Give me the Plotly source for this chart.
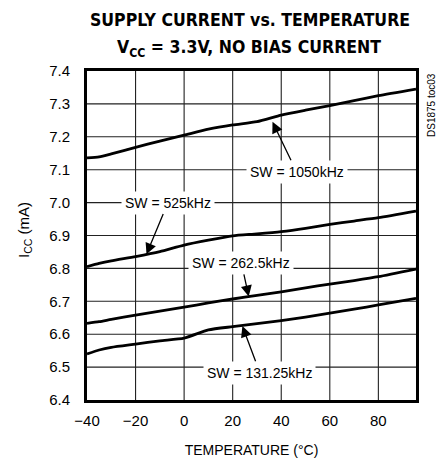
import plotly.graph_objects as go

temp = [-40, -35, -30, -20, -10, 0, 10, 20, 30, 40, 50, 60, 70, 80, 95.5]
sw1050 = [7.136, 7.139, 7.148, 7.168, 7.187, 7.205, 7.223, 7.236, 7.246, 7.266, 7.281, 7.295, 7.310, 7.325, 7.345]
sw525 = [6.805, 6.815, 6.823, 6.836, 6.851, 6.871, 6.886, 6.899, 6.905, 6.912, 6.922, 6.934, 6.944, 6.954, 6.974]
sw262 = [6.633, 6.638, 6.645, 6.658, 6.670, 6.682, 6.695, 6.707, 6.718, 6.729, 6.741, 6.752, 6.763, 6.775, 6.798]
sw131 = [6.540, 6.552, 6.560, 6.570, 6.580, 6.588, 6.613, 6.623, 6.632, 6.641, 6.652, 6.664, 6.676, 6.689, 6.709]

x_ticks = [-40, -20, 0, 20, 40, 60, 80]
y_ticks = [6.4, 6.5, 6.6, 6.7, 6.8, 6.9, 7.0, 7.1, 7.2, 7.3, 7.4]

series = [("SW = 1050kHz", sw1050), ("SW = 525kHz", sw525),
          ("SW = 262.5kHz", sw262), ("SW = 131.25kHz", sw131)]

# label text position (temp, value) and arrow target (temp, value)
labels = [
    ("SW = 1050kHz", 46.3, 7.094, 36.4, 7.2455),
    ("SW = 525kHz", -6.65, 7.000, -15.5, 6.843),
    ("SW = 262.5kHz", 23.6, 6.817, 26.6, 6.7145),
    ("SW = 131.25kHz", 31.2, 6.483, 24.0, 6.625),
]

FONT = "Liberation Sans, Arial, sans-serif"
TFONT = "DejaVu Sans Condensed, Liberation Sans, sans-serif"

W, H = 436, 462
ML, MR, MT, MB = 87, 20, 71, 62
plot_w = W - ML - MR
plot_h = H - MT - MB


def px_to_paper(xp, yp):
    return (xp - ML) / plot_w, (H - MB - yp) / plot_h


fig = go.Figure()

for xv in x_ticks[1:]:
    fig.add_shape(type="line", xref="x", yref="paper", x0=xv, x1=xv, y0=0, y1=1,
                  line=dict(color="#222222", width=1.1), layer="below")
for yv in y_ticks[1:-1]:
    fig.add_shape(type="line", xref="paper", yref="y", x0=0, x1=1, y0=yv, y1=yv,
                  line=dict(color="#222222", width=1.1), layer="below")

for name, vals in series:
    fig.add_trace(go.Scatter(x=temp, y=vals, mode="lines", name=name,
                             line=dict(color="black", width=2.8, shape="spline", smoothing=0.6),
                             showlegend=False, hoverinfo="skip"))

for text, tx, ty, px, py in labels:
    fig.add_annotation(x=px, y=py, ax=tx, ay=ty, axref="x", ayref="y", xref="x", yref="y",
                       text=text, showarrow=True, arrowhead=2, arrowsize=1.7, arrowwidth=1.3,
                       arrowcolor="black", bgcolor="white", borderpad=3,
                       font=dict(family=FONT, size=14, color="black"))

dsx, dsy = px_to_paper(431, 71)
fig.add_annotation(x=dsx, y=dsy, xref="paper", yref="paper", xanchor="center", yanchor="top",
                   text="DS1875 toc03", textangle=-90, showarrow=False,
                   font=dict(family=FONT, size=10, color="black"))

ytx, yty = px_to_paper(24, 230)
fig.add_annotation(x=ytx, y=yty, xref="paper", yref="paper", xanchor="center", yanchor="middle",
                   text="I<sub>CC</sub> (mA)", textangle=-90, showarrow=False,
                   font=dict(family=FONT, size=15, color="black"))

tx1, ty1 = px_to_paper(250, 20)
tx2, ty2 = px_to_paper(249, 48)
fig.add_annotation(x=tx1, y=ty1, xref="paper", yref="paper", text="<b>SUPPLY CURRENT vs. TEMPERATURE</b>",
                   showarrow=False, xanchor="center", yanchor="middle",
                   font=dict(family=TFONT, size=17.5, color="black"))
fig.add_annotation(x=tx2, y=ty2, xref="paper", yref="paper",
                   text="<b>V<sub>CC</sub> = 3.3V, NO BIAS CURRENT</b>",
                   showarrow=False, xanchor="center", yanchor="middle",
                   font=dict(family=TFONT, size=17.5, color="black"))

fig.update_layout(
    width=W, height=H,
    margin=dict(l=ML, r=MR, t=MT, b=MB),
    paper_bgcolor="white", plot_bgcolor="white",
    font=dict(family=FONT, size=15, color="black"),
)

fig.update_xaxes(range=[-40, 95.5], tickvals=x_ticks, automargin=False,
                 showgrid=False,
                 showline=True, linecolor="black", linewidth=3, mirror=True,
                 ticks="", zeroline=False, ticklabelstandoff=5,
                 title=dict(text="TEMPERATURE (°C)", font=dict(family=FONT, size=14), standoff=18),
                 tickfont=dict(family=FONT, size=15))
fig.update_yaxes(range=[6.4, 7.4], tickvals=y_ticks, tickformat=".1f", automargin=False,
                 showgrid=False,
                 showline=True, linecolor="black", linewidth=3, mirror=True,
                 ticks="", zeroline=False, ticklabelstandoff=11,
                 tickfont=dict(family=FONT, size=15))

fig.write_html("out.html", config={"displayModeBar": False},
               post_script="document.body.style.margin='0px';")
